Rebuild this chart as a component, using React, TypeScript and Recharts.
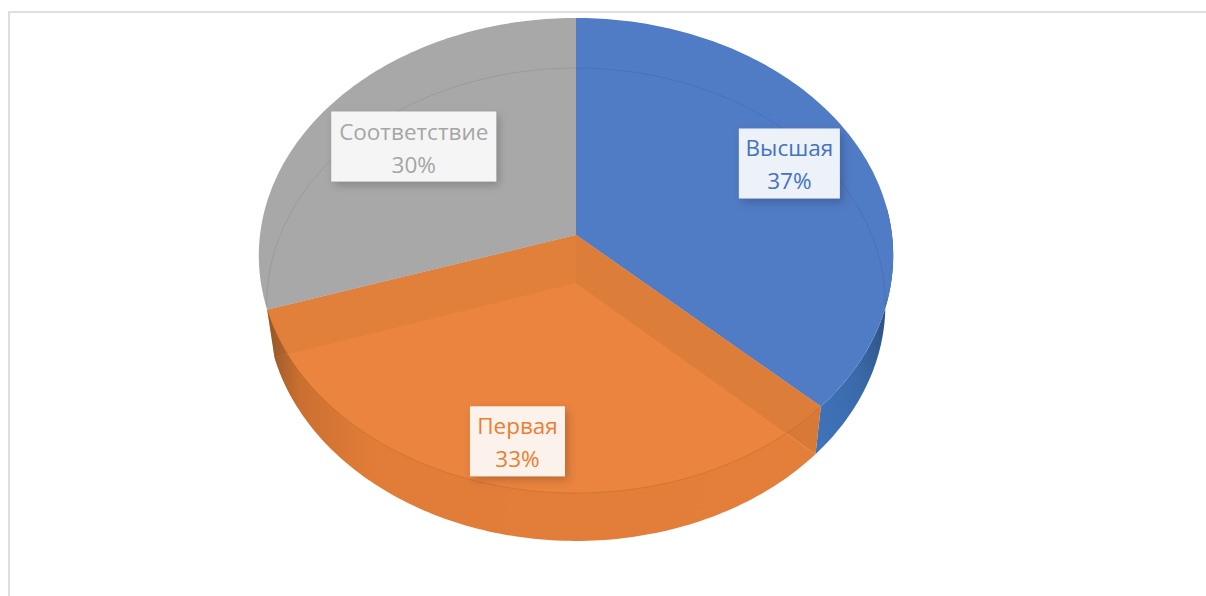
import { PieChart, Pie } from 'recharts';

const categories = ['Высшая', 'Первая', 'Соответствие'];
const shares = [37, 33, 30];
const fills = ['#507bc5', '#ea843f', '#a8a8a8'];
const textColors = ['#4472c4', '#ed7d31', '#a5a5a5'];

// label placement along each slice's mid angle, small nudge, and box width
const labelRadius = [0.762, 0.83, 0.66];
const labelNudge = [[-2, -2], [3, 1], [1, 0]];
const labelBoxWidth = [101, 95, 165];

const OPEN_SLICE = 1; // the orange slice is drawn as an empty tray

interface Plane {
  drop: number;
  sx: number;
  sy: number;
  tilt: number;
}

// the chart is a perspective view: the top face and the floor are two projected circles
const TOP: Plane = { drop: 0, sx: 1, sy: 0.746, tilt: 0.0863 };
const FLOOR: Plane = { drop: 48, sx: 0.975, sy: 0.742, tilt: 0.0909 };

type Pt = [number, number];

function project(cx: number, cy: number, r: number, deg: number, radial: number, plane: Plane): Pt {
  const a = (deg * Math.PI) / 180;
  const u = radial * Math.cos(a);
  const v = radial * Math.sin(a);
  const k = 1 + plane.tilt * v;
  return [cx + (r * plane.sx * u) / k, cy + plane.drop - (r * plane.sy * v) / k];
}

function arc(cx: number, cy: number, r: number, from: number, to: number, plane: Plane): Pt[] {
  const steps = Math.max(2, Math.ceil(Math.abs(to - from)));
  const pts: Pt[] = [];
  for (let i = 0; i <= steps; i++) {
    pts.push(project(cx, cy, r, from + ((to - from) * i) / steps, 1, plane));
  }
  return pts;
}

function toPath(pts: Pt[], close = true) {
  const d = pts.map((p, i) => `${i === 0 ? 'M' : 'L'}${p[0].toFixed(2)},${p[1].toFixed(2)}`).join(' ');
  return close ? `${d} Z` : d;
}

function Slice(props: any) {
  const { cx, cy, outerRadius: r, startAngle, endAngle, fill, name } = props;
  const index = categories.indexOf(name);
  const topArc = arc(cx, cy, r, startAngle, endAngle, TOP);
  const floorArc = arc(cx, cy, r, startAngle, endAngle, FLOOR);
  const topCentre = project(cx, cy, r, 0, 0, TOP);
  const floorCentre = project(cx, cy, r, 0, 0, FLOOR);

  if (index === OPEN_SLICE) {
    const wallLeft = [topCentre, topArc[topArc.length - 1], floorArc[floorArc.length - 1], floorCentre];
    const wallRight = [topCentre, topArc[0], floorArc[0], floorCentre];
    const rim = [...floorArc, ...[...topArc].reverse()];
    return (
      <g>
        {/* backing so no white shows through the seams between the faces */}
        <path d={toPath([topCentre, ...topArc])} fill={fill} />
        <path d={toPath([floorCentre, ...floorArc])} fill={fill} />
        <path d={toPath(wallLeft)} fill="#e1803a" />
        <path d={toPath(wallRight)} fill="#dc7d3a" />
        <path d={toPath(rim)} fill="url(#orangeRim)" />
        <path d={toPath(topArc, false)} fill="none" stroke="#a9591f" strokeOpacity={0.3} strokeWidth={1} />
      </g>
    );
  }

  const face = toPath([topCentre, ...topArc]);
  const clipId = `face-${index}`;
  // only the front part of the blue slice shows its side
  const sideTop = arc(cx, cy, r, endAngle, endAngle + 50, TOP);
  const sideFloor = arc(cx, cy, r, endAngle, endAngle + 50, FLOOR);
  return (
    <g>
      {index === 0 && <path d={toPath([...sideFloor, ...[...sideTop].reverse()])} fill="url(#blueRim)" />}
      <clipPath id={clipId}>
        <path d={face} />
      </clipPath>
      <path d={face} fill={fill} />
      <path
        d={toPath(floorArc, false)}
        fill="none"
        stroke="#000"
        strokeOpacity={0.08}
        strokeWidth={1}
        clipPath={`url(#${clipId})`}
      />
    </g>
  );
}

function SliceLabel(props: any) {
  const { cx, cy, outerRadius, midAngle, name, percent } = props;
  const index = categories.indexOf(name);
  const [px, py] = project(cx, cy, outerRadius, midAngle, labelRadius[index], TOP);
  const x = px + labelNudge[index][0];
  const y = py + labelNudge[index][1];
  const w = labelBoxWidth[index];
  const h = 70;
  const textStyle = { fontFamily: '"Open Sans", sans-serif', fontSize: 22.5 };
  return (
    <g>
      <rect x={x - w / 2} y={y - h / 2} width={w} height={h} fill="#fff" fillOpacity={0.89} filter="url(#labelShadow)" />
      <text x={x} y={y - 7} textAnchor="middle" fill={textColors[index]} style={textStyle}>
        {name}
      </text>
      <text x={x} y={y + 26} textAnchor="middle" fill={textColors[index]} style={textStyle}>
        {`${Math.round(percent * 100)}%`}
      </text>
    </g>
  );
}

const data = categories.map((name, i) => ({ name, value: shares[i], fill: fills[i] }));

export default function App() {
  return (
    <div style={{ position: 'fixed', left: 0, top: 0, width: 1206, height: 596, overflow: 'hidden', background: '#fff' }}>
      <div
        style={{
          position: 'absolute',
          left: 8,
          top: 11,
          width: 1300,
          height: 700,
          border: '2px solid #dedede',
        }}
      />
      <div style={{ position: 'absolute', left: 0, top: 0 }}>
        <PieChart width={1206} height={596} margin={{ top: 0, right: 0, bottom: 0, left: 0 }}>
          <defs>
            <linearGradient id="orangeRim" x1="0" y1="0" x2="1" y2="0">
              <stop offset="0" stopColor="#6e431f" stopOpacity={0.7} />
              <stop offset="0.06" stopColor="#a3561f" stopOpacity={0.45} />
              <stop offset="0.2" stopColor="#c0601f" stopOpacity={0.2} />
              <stop offset="1" stopColor="#c0601f" stopOpacity={0.14} />
            </linearGradient>
            <linearGradient id="blueRim" x1="0" y1="1" x2="1" y2="0">
              <stop offset="0" stopColor="#3f74bd" />
              <stop offset="0.45" stopColor="#3a69a8" />
              <stop offset="1" stopColor="#1f3b60" />
            </linearGradient>
            <filter id="labelShadow" x="-20%" y="-30%" width="150%" height="170%">
              <feDropShadow dx="3" dy="4" stdDeviation="4" floodColor="#000" floodOpacity={0.22} />
            </filter>
          </defs>
          <Pie
            data={data}
            dataKey="value"
            nameKey="name"
            cx={576}
            cy={235}
            outerRadius={316}
            startAngle={90}
            endAngle={-270}
            stroke="none"
            shape={Slice}
            label={SliceLabel}
            labelLine={false}
            isAnimationActive={false}
          />
        </PieChart>
      </div>
    </div>
  );
}
